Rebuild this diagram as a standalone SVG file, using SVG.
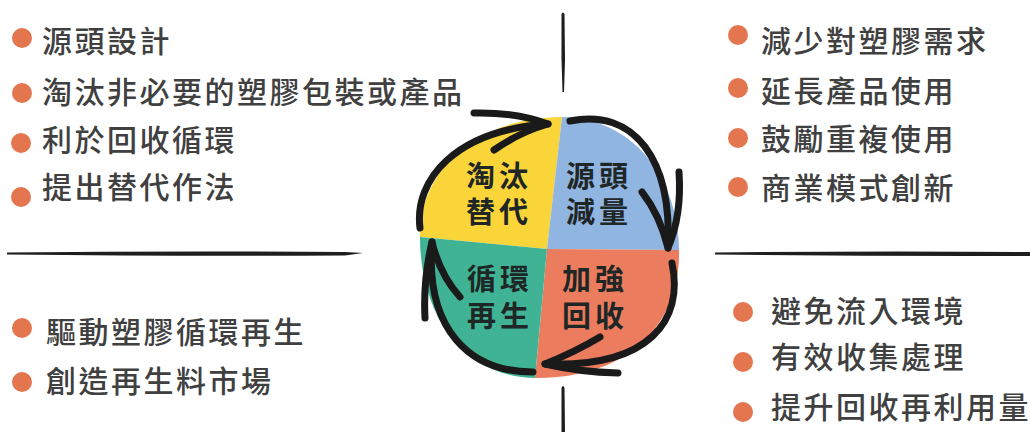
<svg xmlns="http://www.w3.org/2000/svg" width="1030" height="432" viewBox="0 0 1030 432">
<style>
.item{font-family:"Noto Sans CJK TC","Noto Sans CJK SC",sans-serif;font-size:30px;font-weight:500;letter-spacing:2.5px;fill:#404040;}
.quad{font-family:"Noto Sans CJK TC","Noto Sans CJK SC",sans-serif;font-size:29px;font-weight:700;letter-spacing:4px;fill:#1f2626;}
.bullet{fill:#E4764F;}
.arrow{fill:none;stroke:#1a1a1a;stroke-width:7;stroke-linecap:round;stroke-linejoin:round;}
.sep{fill:#1e1e1e;}
</style>
<rect width="1030" height="432" fill="#ffffff"/>
<g id="separators">
<path class="sep" d="M7,252.5 Q180,250.8 345,252 L363,253 L345,255.5 Q180,256.5 7,254.5 Z"/>
<path class="sep" d="M715,252.5 Q870,250.8 1030,252 L1030,256 Q870,256.5 715,254.5 Z"/>
<path class="sep" d="M561.5,14 Q563,11 564.5,14 L565,60 L564,92 L562.5,92 L561.5,60 Z"/>
<path class="sep" d="M561.5,388 Q563,384 564.5,388 L565,432 L561.5,432 Z"/>
</g>
<g id="cycle">
<path fill="#FAD53A" d="M547,249 L420,237 C419,175 470,118 562,117 Z"/>
<path fill="#8FB5E0" d="M547,249 L562,117 C632,118 678,176 679,250 Z"/>
<path fill="#EB7D5E" d="M547,249 L679,250 C681,322 630,379 535,378 Z"/>
<path fill="#40B394" d="M547,249 L535,378 C470,378 420,322 420,237 Z"/>
</g>
<g id="node-eliminate"><text class="quad" x="466" y="187">淘汰<tspan x="466" dy="36">替代</tspan></text></g>
<g id="node-reduce"><text class="quad" x="566" y="187">源頭<tspan x="566" dy="36">減量</tspan></text></g>
<g id="node-recycle"><text class="quad" x="467" y="290">循環<tspan x="467" dy="37">再生</tspan></text></g>
<g id="node-collect"><text class="quad" x="562" y="290">加強<tspan x="562" dy="37">回收</tspan></text></g>
<g id="connectors">
<path class="arrow" d="M420,228 C414,180 455,130 548,124"/>
<path class="arrow" d="M474,113 Q515,112 548,124 Q520,132 494,150"/>
<path class="arrow" d="M570,121 C635,108 672,160 668,248"/>
<path class="arrow" d="M642,192 Q660,215 668,248 Q682,215 679,172"/>
<path class="arrow" d="M672,263 C684,320 650,368 545,364"/>
<path class="arrow" d="M600,337 Q575,352 545,364 Q580,372 618,373"/>
<path class="arrow" d="M533,372 C470,372 425,330 432,242"/>
<path class="arrow" d="M425,318 Q423,280 432,242 Q440,275 460,297"/>
</g>
<g id="list-top-left">
<circle class="bullet" cx="22" cy="38" r="10"/><text class="item" x="42" y="52">源頭設計</text>
<circle class="bullet" cx="22" cy="93" r="10"/><text class="item" x="42" y="103">淘汰非必要的塑膠包裝或產品</text>
<circle class="bullet" cx="21" cy="143" r="10"/><text class="item" x="42" y="151">利於回收循環</text>
<circle class="bullet" cx="21" cy="197" r="10"/><text class="item" x="42" y="198">提出替代作法</text>
</g>
<g id="list-top-right">
<circle class="bullet" cx="738" cy="35" r="10"/><text class="item" x="761" y="52">減少對塑膠需求</text>
<circle class="bullet" cx="738" cy="88" r="10"/><text class="item" x="761" y="102">延長產品使用</text>
<circle class="bullet" cx="738" cy="138" r="10"/><text class="item" x="761" y="150">鼓勵重複使用</text>
<circle class="bullet" cx="738" cy="187" r="10"/><text class="item" x="761" y="199">商業模式創新</text>
</g>
<g id="list-bottom-left">
<circle class="bullet" cx="22" cy="328" r="10"/><text class="item" x="46" y="343">驅動塑膠循環再生</text>
<circle class="bullet" cx="22" cy="382" r="10"/><text class="item" x="46" y="392">創造再生料市場</text>
</g>
<g id="list-bottom-right">
<circle class="bullet" cx="743" cy="312" r="10"/><text class="item" x="771" y="322">避免流入環境</text>
<circle class="bullet" cx="743" cy="362" r="10"/><text class="item" x="771" y="368">有效收集處理</text>
<circle class="bullet" cx="743" cy="412" r="10"/><text class="item" x="771" y="418">提升回收再利用量</text>
</g>
</svg>
